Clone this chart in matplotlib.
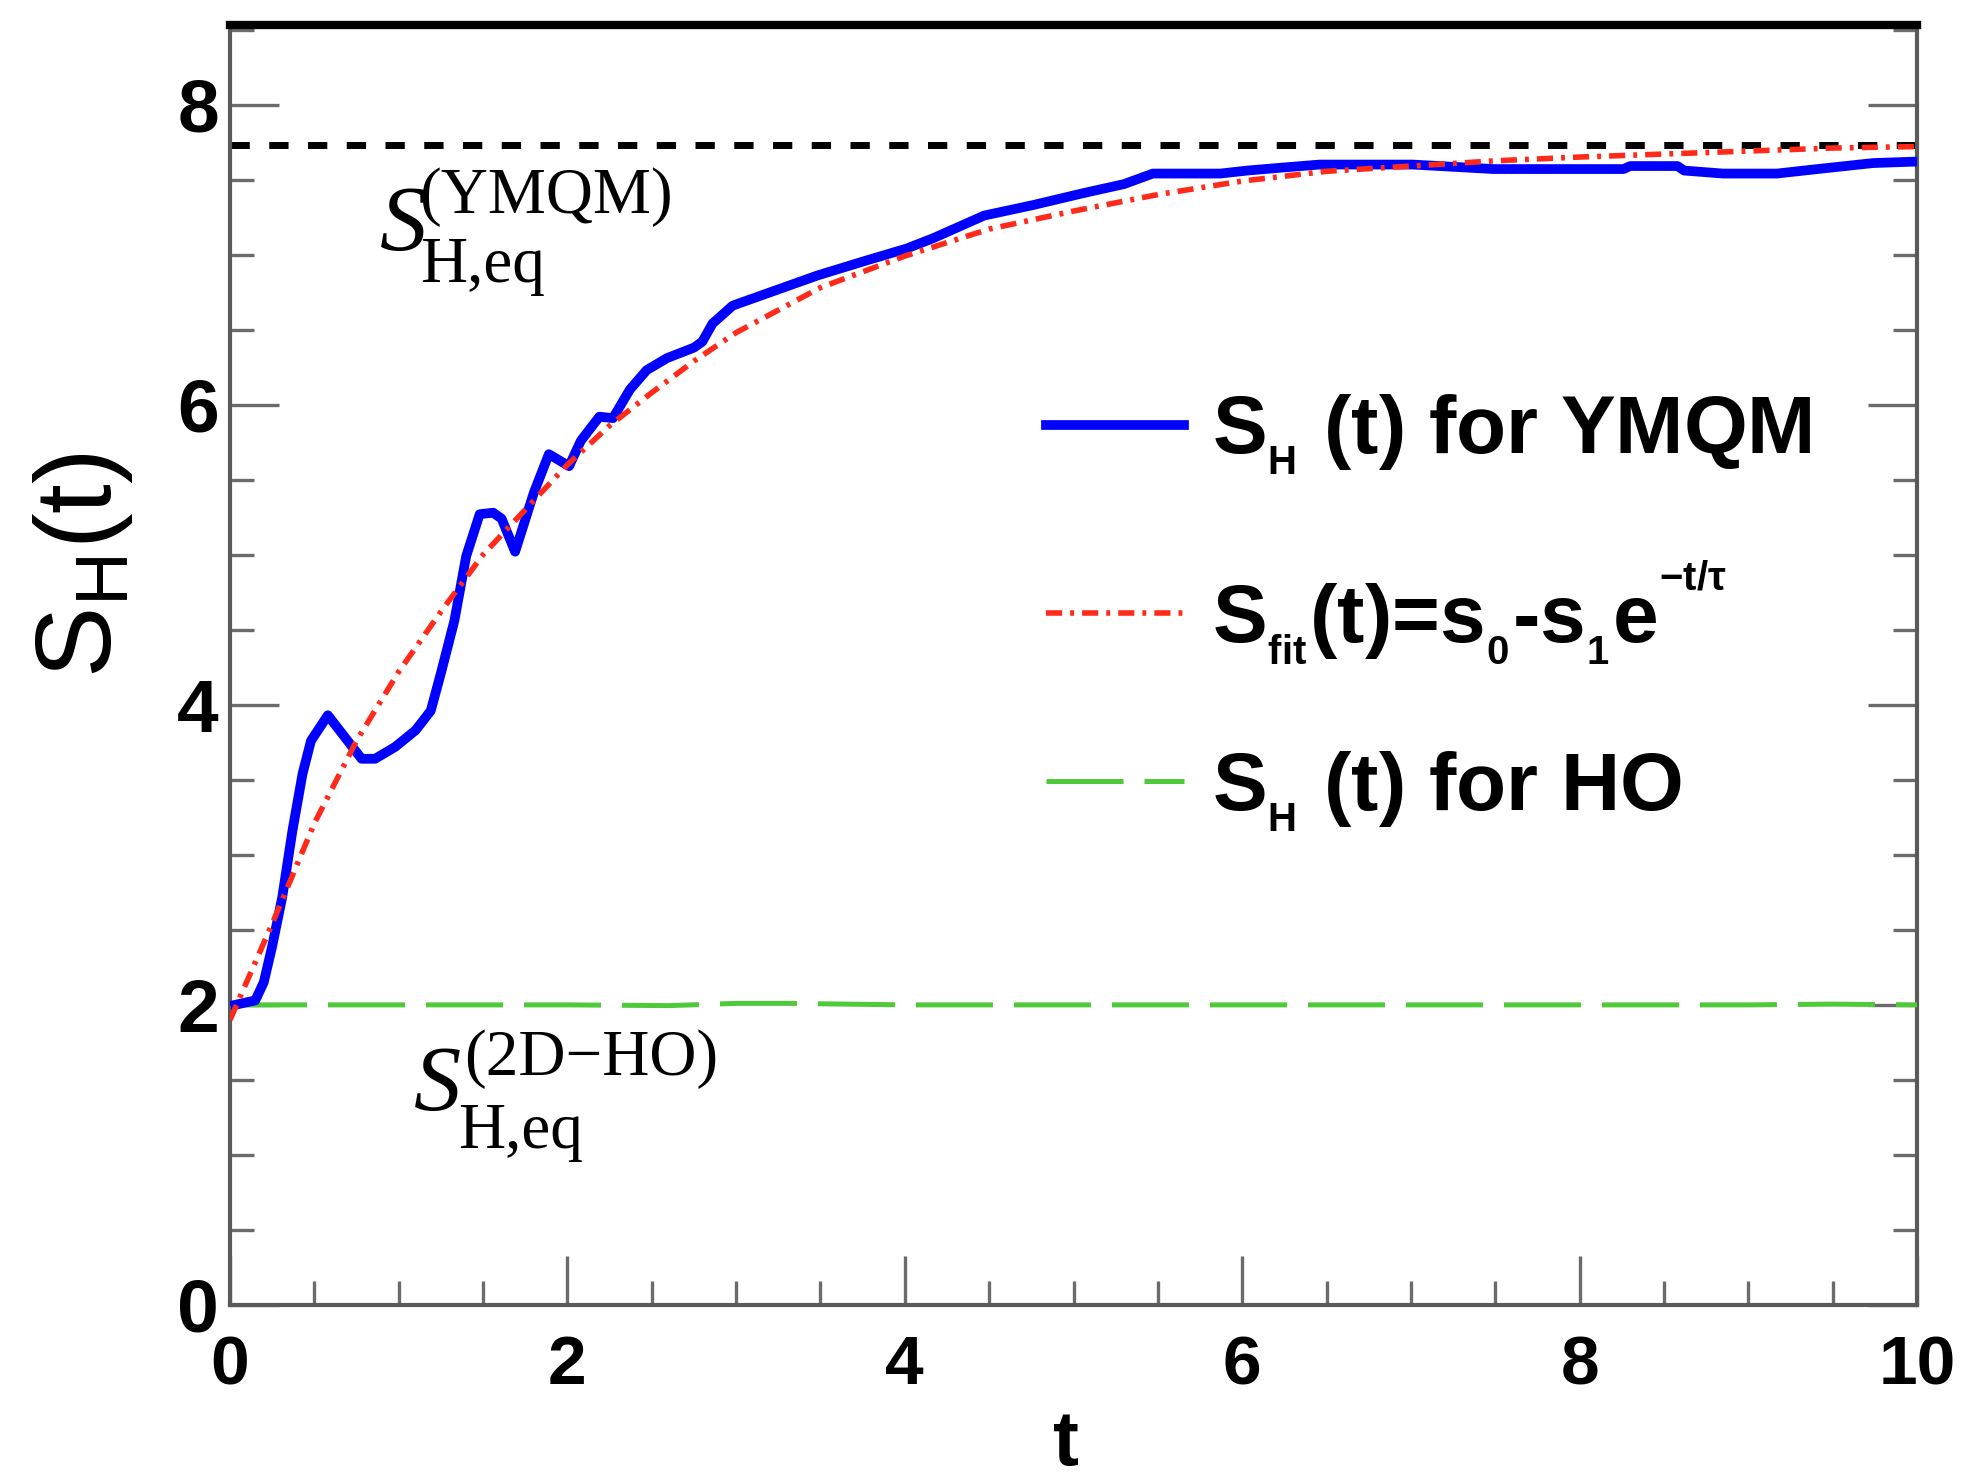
import matplotlib
matplotlib.use("Agg")
import matplotlib.pyplot as plt
from matplotlib.ticker import MultipleLocator

# ---------------- data ----------------
t_ymqm = [0.03, 0.15, 0.20, 0.25, 0.31, 0.37, 0.43, 0.48, 0.58, 0.78, 0.86, 0.98,
          1.10, 1.19, 1.25, 1.33, 1.40, 1.48, 1.56, 1.61, 1.69, 1.80, 1.89, 2.01,
          2.08, 2.19, 2.27, 2.37, 2.47, 2.59, 2.75, 2.80, 2.86, 2.98, 3.18, 3.48,
          3.77, 4.01, 4.17, 4.47, 4.76, 5.06, 5.30, 5.47, 5.87, 6.03, 6.24, 6.46,
          7.01, 7.49, 8.26, 8.30, 8.58, 8.62, 8.85, 9.17, 9.41, 9.74, 10.0]
s_ymqm = [2.00, 2.03, 2.15, 2.39, 2.72, 3.16, 3.54, 3.76, 3.93, 3.64, 3.64, 3.72,
          3.83, 3.96, 4.21, 4.56, 4.99, 5.27, 5.28, 5.24, 5.02, 5.41, 5.67, 5.59,
          5.76, 5.92, 5.91, 6.10, 6.23, 6.31, 6.38, 6.42, 6.54, 6.66, 6.74, 6.86,
          6.96, 7.04, 7.11, 7.26, 7.33, 7.41, 7.47, 7.54, 7.54, 7.56, 7.58, 7.60,
          7.60, 7.57, 7.57, 7.59, 7.59, 7.56, 7.54, 7.54, 7.57, 7.61, 7.62]

t_fit = [0.0, 0.25, 0.5, 0.75, 1.0, 1.25, 1.5, 1.75, 2.0, 2.25, 2.5, 2.75, 3.0,
         3.5, 4.0, 4.5, 5.0, 5.5, 6.0, 6.5, 7.0, 7.5, 8.0, 8.5, 9.0, 9.5, 10.0]
s_fit = [1.90, 2.54, 3.21, 3.76, 4.22, 4.62, 5.00, 5.30, 5.60, 5.86, 6.08, 6.29, 6.48,
         6.78, 6.99, 7.17, 7.29, 7.40, 7.49, 7.555, 7.59, 7.625, 7.65, 7.67, 7.69, 7.71, 7.72]

t_ho = [0.0, 1.0, 2.0, 2.6, 3.0, 3.3, 4.0, 5.0, 6.0, 7.0, 8.0, 9.0, 9.5, 10.0]
s_ho = [2.0, 2.0, 2.0, 1.995, 2.01, 2.01, 2.0, 2.0, 2.0, 2.0, 2.0, 2.0, 2.005, 2.0]

s_eq_ymqm = 7.73

x_ticks = [0, 2, 4, 6, 8, 10]
y_ticks = [0, 2, 4, 6, 8]

legend_labels = [r'S$_{_\mathbf{H}}$ (t) for YMQM',
                 r'S$_{_\mathbf{fit}}$(t)=s$_{_\mathbf{0}}$-s$_{_\mathbf{1}}$e$^{^\mathbf{-t/τ}}$',
                 r'S$_{_\mathbf{H}}$ (t) for HO']

# ---------------- style ----------------
plt.rcParams['font.family'] = ['Liberation Sans', 'DejaVu Sans']
plt.rcParams['mathtext.fontset'] = 'custom'
plt.rcParams['mathtext.rm'] = 'Liberation Sans'
plt.rcParams['mathtext.bf'] = 'Liberation Sans:bold'
plt.rcParams['mathtext.it'] = 'Liberation Sans:italic'

fig = plt.figure(figsize=(19.68, 14.78), dpi=100)
ax = fig.add_axes([230/1968, 1 - 1305/1478, 1687/1968, 1280/1478])

blue_c = '#0000ff'
red_c = '#ff2a1a'
green_c = '#4fc93a'

ax.axhline(s_eq_ymqm, color='black', lw=5, dashes=(2.78, 2.8), zorder=2)
l_ho, = ax.plot(t_ho, s_ho, color=green_c, lw=3.6, dashes=(15.4, 4.2), zorder=3)
l_ym, = ax.plot(t_ymqm, s_ymqm, color=blue_c, lw=7, solid_joinstyle='round', zorder=4)
l_fit, = ax.plot(t_fit, s_fit, color=red_c, lw=4, dashes=(2.9, 1.45, 0.7, 1.45), zorder=5)

ax.set_xlim(0, 10)
ax.set_ylim(0, 8.53)
ax.set_xticks(x_ticks)
ax.set_yticks(y_ticks)
ax.xaxis.set_minor_locator(MultipleLocator(0.5))
ax.yaxis.set_minor_locator(MultipleLocator(0.5))
tick_c = '#6b6b6b'
ax.tick_params(which='major', direction='in', length=35, width=2.4, color=tick_c,
               right=True, top=False)
ax.tick_params(which='minor', direction='in', length=17, width=2.4, color=tick_c,
               right=True, top=False)
ax.tick_params(axis='x', which='major', pad=21, labelsize=50)
ax.tick_params(axis='y', which='major', pad=8, labelsize=54)
for lab in ax.get_xticklabels() + ax.get_yticklabels():
    lab.set_fontweight('bold')

for s in ['left', 'right', 'bottom']:
    ax.spines[s].set_color('#5a5a5a')
    ax.spines[s].set_linewidth(3)
ax.spines['top'].set_color('black')
ax.spines['top'].set_linewidth(6)

# axis labels
fig.text(1066/1968, 0.009, 't', fontsize=56, fontweight='bold', ha='center', va='baseline')
fig.text(83/1968, 1 - 565/1478, r'S$_\mathrm{H}$(t)', fontsize=77, rotation=90,
         ha='center', va='center')

# annotations (serif)
serif = 'Liberation Serif'
def eq_label(sx, sy, supx, supy, subx, suby, sup):
    ax.text(sx, sy, 'S', transform=ax.transAxes, family=serif, style='italic',
            fontsize=68, ha='left', va='baseline')
    ax.text(supx, supy, sup, transform=ax.transAxes, family=serif,
            fontsize=47, ha='left', va='baseline')
    ax.text(subx, suby, 'H,eq', transform=ax.transAxes, family=serif,
            fontsize=47, ha='left', va='baseline')

eq_label(0.0889, 0.8242, 0.1120, 0.8531, 0.1126, 0.7992, '(YMQM)')
eq_label(0.1091, 0.1523, 0.1385, 0.1797, 0.1352, 0.1227, '(2D\u2212HO)')

leg = ax.legend([l_ym, l_fit, l_ho], legend_labels, loc='upper left',
                bbox_to_anchor=(0.4837, 0.713), frameon=False,
                prop={'family': 'Liberation Sans', 'weight': 'bold', 'size': 59},
                handlelength=1.69, handletextpad=0.34, labelspacing=1.0,
                borderpad=0, borderaxespad=0)

fig.savefig('out.png', dpi=100, facecolor='white')
